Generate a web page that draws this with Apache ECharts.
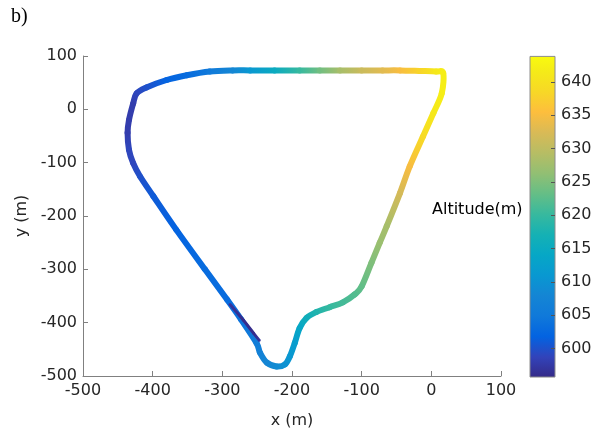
<!DOCTYPE html>
<html>
<head>
<meta charset="utf-8">
<script src="https://cdn.jsdelivr.net/npm/echarts@6/dist/echarts.min.js"></script>
<style>
  html, body { margin: 0; padding: 0; background: #fff; }
  #chart { width: 601px; height: 434px; }
</style>
</head>
<body>
<div id="chart"></div>
<script>
// GPS track around the loop: east (m), north (m), altitude (m)
const trackX = [-423, -409, -380, -351, -318, -285, -260, -225, -189, -160, -131, -100, -70, -45, -17, 7, 17, 15, 3, -12, -31, -45, -64, -74, -86, -100, -110, -127, -146, -165, -179, -189, -196, -203, -210, -222, -236, -246, -251, -273, -293, -325, -366, -399, -418, -428, -434, -436, -434, -428, -423];
const trackY = [30, 41, 55, 64, 71, 73, 73, 73, 73, 73, 73, 73, 73, 73, 72, 71, 68, 30, -7, -51, -107, -157, -219, -250, -288, -332, -347, -362, -371, -380, -391, -410, -438, -463, -478, -482, -475, -456, -438, -394, -357, -300, -226, -163, -126, -101, -76, -44, -20, 11, 30];
const trackAlt = [599, 600, 602, 603, 605, 608, 611, 615, 620, 624, 628, 631, 633, 635, 638, 641, 642, 642, 641, 639, 635, 632, 628, 627, 625, 623, 622, 621, 620, 618, 616, 614, 612, 611, 610, 609, 608, 607, 606, 604, 603, 603, 602, 601, 600, 599, 599, 598, 598, 598, 599];

// Short second pass over the lower diagonal (lower altitude)
const passX = [-289, -270, -255, -247];
const passY = [-366, -395, -420, -433];
const passAlt = [597, 596, 596, 597];

// Axis ticks
const xTicks = [-500, -400, -300, -200, -100, 0, 100];
const yTicks = [-500, -400, -300, -200, -100, 0, 100];
const cbTicks = [600, 605, 610, 615, 620, 625, 630, 635, 640];
const cbRange = [595.7, 643.8];

// parula colormap (index out of 63, r, g, b)
const parula = [
  [0, 53, 42, 135], [4, 50, 67, 186], [8, 3, 99, 225], [12, 16, 121, 218],
  [16, 20, 133, 212], [20, 9, 152, 209], [24, 6, 167, 198], [28, 21, 177, 180],
  [32, 56, 185, 158], [36, 101, 190, 134], [40, 146, 191, 115], [44, 183, 189, 100],
  [48, 217, 186, 86], [52, 253, 190, 61], [56, 247, 216, 38], [60, 245, 235, 24],
  [63, 249, 251, 14]
];
function cmap(v) {
  let t = (v - cbRange[0]) / (cbRange[1] - cbRange[0]);
  t = Math.max(0, Math.min(1, t)) * 63;
  for (let i = 0; i < parula.length - 1; i++) {
    const a = parula[i], b = parula[i + 1];
    if (t <= b[0]) {
      const f = (t - a[0]) / (b[0] - a[0]);
      const c = [1, 2, 3].map(k => Math.round(a[k] + (b[k] - a[k]) * f));
      return 'rgb(' + c.join(',') + ')';
    }
  }
  const l = parula[parula.length - 1];
  return 'rgb(' + l[1] + ',' + l[2] + ',' + l[3] + ')';
}
const cbStops = parula.map(p => ({ offset: p[0] / 63, color: 'rgb(' + p[1] + ',' + p[2] + ',' + p[3] + ')' }));

// One item per segment: [x1, y1, x2, y2, alt1, alt2, xPrev, yPrev, xNext, yNext]
function segments(xs, ys, as) {
  const n = xs.length;
  const closed = xs[0] === xs[n - 1] && ys[0] === ys[n - 1];
  const out = [];
  for (let i = 0; i < n - 1; i++) {
    let p = i - 1, q = i + 2;
    if (p < 0) p = closed ? n - 2 : 0;
    if (q > n - 1) q = closed ? 1 : n - 1;
    out.push([xs[i], ys[i], xs[i + 1], ys[i + 1], as[i], as[i + 1], xs[p], ys[p], xs[q], ys[q]]);
  }
  return out;
}

function trackRenderer(width) {
  return function (params, api) {
    const p1 = api.coord([api.value(0), api.value(1)]);
    const p2 = api.coord([api.value(2), api.value(3)]);
    const p0 = api.coord([api.value(6), api.value(7)]);
    const p3 = api.coord([api.value(8), api.value(9)]);
    const c1 = cmap(api.value(4)), c2 = cmap(api.value(5));
    // Catmull-Rom tangents give a smooth curve through the fixes
    const cp1 = [p1[0] + (p2[0] - p0[0]) / 6, p1[1] + (p2[1] - p0[1]) / 6];
    const cp2 = [p2[0] - (p3[0] - p1[0]) / 6, p2[1] - (p3[1] - p1[1]) / 6];
    return {
      type: 'bezierCurve',
      shape: { x1: p1[0], y1: p1[1], x2: p2[0], y2: p2[1], cpx1: cp1[0], cpy1: cp1[1], cpx2: cp2[0], cpy2: cp2[1] },
      style: {
        fill: null,
        stroke: new echarts.graphic.LinearGradient(p1[0], p1[1], p2[0], p2[1] + 0.001,
          [{ offset: 0, color: c1 }, { offset: 1, color: c2 }], true),
        lineWidth: width,
        lineCap: 'round',
        lineJoin: 'round'
      }
    };
  };
}

const FONT = 'DejaVu Sans';
const TXT = '#262626';
const AX = '#808080';

const chart = echarts.init(document.getElementById('chart'), null, { renderer: 'canvas' });
chart.setOption({
  animation: false,
  backgroundColor: '#ffffff',
  grid: [
    { left: 83, top: 56, width: 418, height: 321 },
    { left: 530, top: 48.4, width: 25, height: 333.3 }
  ],
  xAxis: [
    {
      gridIndex: 0, type: 'value', min: xTicks[0], max: xTicks[xTicks.length - 1], interval: 100,
      name: 'x (m)', nameLocation: 'middle', nameGap: 37,
      nameTextStyle: { fontFamily: FONT, fontSize: 16, color: TXT },
      axisLine: { show: true, onZero: false, lineStyle: { color: AX, width: 1 } },
      axisTick: { show: true, inside: true, length: 5, lineStyle: { color: AX } },
      axisLabel: { fontFamily: FONT, fontSize: 16, color: TXT, margin: 7 },
      splitLine: { show: false }
    },
    {
      gridIndex: 1, type: 'value', min: 0, max: 1, show: false
    }
  ],
  yAxis: [
    {
      gridIndex: 0, type: 'value', min: yTicks[0], max: yTicks[yTicks.length - 1], interval: 100,
      name: 'y (m)', nameLocation: 'middle', nameGap: 48, nameRotate: 90,
      nameTextStyle: { fontFamily: FONT, fontSize: 16, color: TXT },
      axisLine: { show: true, onZero: false, lineStyle: { color: AX, width: 1 } },
      axisTick: { show: true, inside: true, length: 5, lineStyle: { color: AX } },
      axisLabel: { fontFamily: FONT, fontSize: 16, color: TXT, margin: 6 },
      splitLine: { show: false }
    },
    {
      gridIndex: 1, type: 'value', min: 595, max: 645, interval: 5, position: 'right',
      axisLine: { show: false },
      axisTick: { show: false },
      axisLabel: {
        fontFamily: FONT, fontSize: 16, color: TXT, margin: 6,
        formatter: v => (cbTicks.indexOf(v) >= 0 ? String(v) : '')
      },
      splitLine: { show: false }
    }
  ],
  graphic: [
    { type: 'text', left: 11, top: 7, style: { text: 'b)', font: '20px "Liberation Serif"', fill: '#000' } },
    { type: 'text', left: 432, top: 202, style: { text: 'Altitude(m)', font: '16px "DejaVu Sans"', fill: '#000' } }
  ],
  series: [
    {
      type: 'custom', xAxisIndex: 0, yAxisIndex: 0, clip: false,
      data: segments(trackX, trackY, trackAlt),
      encode: { x: [0, 2], y: [1, 3] },
      renderItem: trackRenderer(6)
    },
    {
      type: 'custom', xAxisIndex: 0, yAxisIndex: 0, clip: false,
      data: segments(passX, passY, passAlt),
      encode: { x: [0, 2], y: [1, 3] },
      renderItem: trackRenderer(3)
    },
    {
      // colour bar with inward ticks on its right edge
      type: 'custom', xAxisIndex: 1, yAxisIndex: 1,
      data: [[0, cbRange[0], 1, cbRange[1]]],
      encode: { x: [0, 2], y: [1, 3] },
      renderItem: function (params, api) {
        const a = api.coord([api.value(0), api.value(1)]);
        const b = api.coord([api.value(2), api.value(3)]);
        const children = [{
          type: 'rect',
          shape: { x: a[0], y: b[1], width: b[0] - a[0], height: a[1] - b[1] },
          style: {
            fill: new echarts.graphic.LinearGradient(0, 1, 0, 0, cbStops),
            stroke: '#8c8c8c', lineWidth: 1
          }
        }];
        cbTicks.forEach(t => {
          const y = Math.round(api.coord([0, t])[1]) + 0.5;
          children.push({
            type: 'line',
            shape: { x1: b[0] - 4, y1: y, x2: b[0], y2: y },
            style: { stroke: '#555', lineWidth: 1 }
          });
        });
        return { type: 'group', children: children };
      }
    }
  ]
});
</script>
</body>
</html>
